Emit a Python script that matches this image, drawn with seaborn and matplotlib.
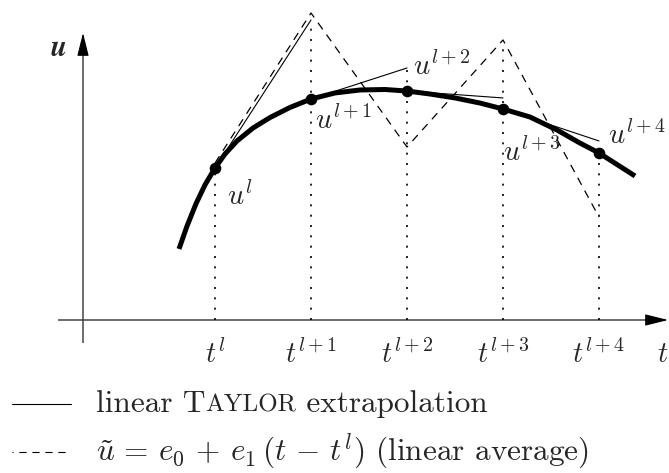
import numpy as np
import pandas as pd
import matplotlib
matplotlib.use("Agg")
import matplotlib.pyplot as plt
import seaborn as sns
from matplotlib.offsetbox import TextArea, HPacker, AnnotationBbox

sns.set_theme(style="white")
plt.rcParams['font.family'] = ['cmr10', 'DejaVu Serif']
plt.rcParams['mathtext.fontset'] = 'cm'
plt.rcParams['axes.unicode_minus'] = False

# ---- data (t in steps, u in arbitrary units) ----
step_t = [0, 1, 2, 3, 4]
step_u = [1.583, 2.302, 2.385, 2.198, 1.740]
step_labels = [r'$u^{l}$', r'$u^{l+1}$', r'$u^{l+2}$', r'$u^{l+3}$', r'$u^{l+4}$']
tick_labels = [r'$t^{l}$', r'$t^{l+1}$', r'$t^{l+2}$', r'$t^{l+3}$', r'$t^{l+4}$']

curve_t = [-0.375, -0.292, -0.198, -0.104, 0.0, 0.104, 0.229, 0.396, 0.573, 0.781,
           1.0, 1.25, 1.51, 1.771, 2.0, 2.24, 2.5, 2.76, 3.0, 3.28, 3.563, 3.80, 4.0, 4.375]
curve_u = [0.740, 0.977, 1.211, 1.408, 1.583, 1.729, 1.865, 2.0, 2.109, 2.214,
           2.302, 2.365, 2.396, 2.401, 2.385, 2.354, 2.313, 2.260, 2.198, 2.115,
           1.979, 1.844, 1.740, 1.50]

# linear Taylor extrapolation: value reached at the next step
taylor_end_u = [3.125, 2.625, 2.313, 1.865]

# linear average (dashed zig-zag)
avg_t = [0, 1, 2, 3, 4]
avg_u = [1.635, 3.198, 1.802, 2.917, 1.073]

# top of the dotted guide lines
guide_top_u = [1.583, 3.073, 2.625, 2.833, 1.740]

# label positions for point labels (t, u)
label_pos_t = [0.125, 1.04, 2.06, 3.0, 4.09]
label_pos_u = [1.281, 2.08, 2.64, 1.74, 1.92]

legend_labels = ["linear Taylor extrapolation",
                 r"$\tilde{u} \,=\, e_0 \,+\, e_1\,(t \,-\, t^l)$ (linear average)"]

# ---- figure ----
W, H = 669, 473
fig = plt.figure(figsize=(W / 100, H / 100), dpi=100)
ax = fig.add_axes([0, 0, 1, 1])
ax.set_xlim(-215 / 96, (W - 215) / 96)
ax.set_ylim(-(H - 320) / 96, 320 / 96)
ax.axis('off')

axis_col = '#444444'
# axes with arrows
ax.plot([-1.635, 4.6], [0, 0], color=axis_col, lw=1.1, solid_capstyle='butt')
ax.plot([-1.375, -1.375], [-0.24, 2.85], color=axis_col, lw=1.1, solid_capstyle='butt')
ax.annotate('', xy=(4.719, 0), xytext=(4.5, 0),
            arrowprops=dict(arrowstyle='-|>,head_length=0.72,head_width=0.18',
                            mutation_scale=20, color='black', lw=0.8, shrinkA=0, shrinkB=0))
ax.annotate('', xy=(-1.375, 2.99), xytext=(-1.375, 2.78),
            arrowprops=dict(arrowstyle='-|>,head_length=0.72,head_width=0.18',
                            mutation_scale=20, color='black', lw=0.8, shrinkA=0, shrinkB=0))

# dotted guides
for t, top in zip(step_t, guide_top_u):
    sns.lineplot(x=[t, t], y=[0, top], ax=ax, color='black', lw=1.2,
                 linestyle=(0, (1.2, 5)), sort=False, estimator=None)

# dashed linear average
sns.lineplot(x=avg_t, y=avg_u, ax=ax, color='black', lw=0.9,
             linestyle=(0, (6.5, 5.2)), sort=False, estimator=None)

# Taylor tangents
for i in range(4):
    sns.lineplot(x=[step_t[i], step_t[i + 1]], y=[step_u[i], taylor_end_u[i]], ax=ax,
                 color='black', lw=0.8, sort=False, estimator=None)

# thick curve
sns.lineplot(x=curve_t, y=curve_u, ax=ax, color='black', lw=3.6, sort=False,
             estimator=None)
ax.lines[-1].set_solid_capstyle('butt')
ax.lines[-1].set_solid_joinstyle('round')

# points
sns.scatterplot(x=step_t, y=step_u, ax=ax, color='black', s=70, edgecolor='black',
                linewidth=0, zorder=5)

# point labels
for lt, lu, lab in zip(label_pos_t, label_pos_u, step_labels):
    ax.text(lt, lu, lab, fontsize=20.5, ha='left', va='center')

# tick labels
for t, lab in zip(step_t, tick_labels):
    ax.text(t, -0.365, lab, fontsize=20.5, ha='center', va='center')
ax.text(4.6, -0.365, r'$t$', fontsize=20.5, ha='left', va='center')
ax.text(-1.635, 2.823, r'$\boldsymbol{u}$', fontsize=21, ha='center', va='center')

# legend
sns.lineplot(x=[-2.115, -1.5], y=[-0.875, -0.875], ax=ax, color='black', lw=0.8,
             sort=False, estimator=None)
sns.lineplot(x=[-2.115, -1.5], y=[-1.375, -1.375], ax=ax, color='black', lw=0.8,
             linestyle=(5.5, (6.5, 5.2)), sort=False, estimator=None)

tp = dict(fontsize=22.5, family='cmr10')
tps = dict(fontsize=18, family='cmr10')
box1 = HPacker(children=[TextArea("linear T", textprops=tp),
                         TextArea("AYLOR", textprops=tps),
                         TextArea(" extrapolation", textprops=tp)],
               align="baseline", pad=0, sep=0)
ab1 = AnnotationBbox(box1, (-1.24, -0.875), xycoords='data', box_alignment=(0, 0.5),
                     frameon=False, pad=0)
ax.add_artist(ab1)
ax.text(-1.24, -1.375, legend_labels[1], fontsize=22.5, ha='left', va='center')

fig.savefig('out.png', dpi=100)
